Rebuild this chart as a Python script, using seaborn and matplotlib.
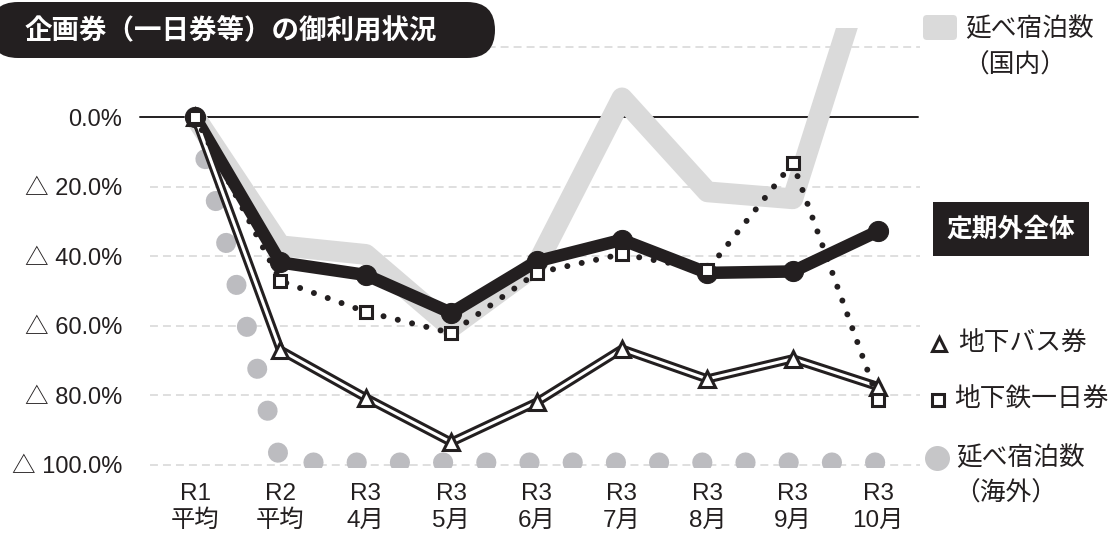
"""企画券（一日券等）の御利用状況 - line chart recreation"""

import numpy as np
import matplotlib
matplotlib.use("Agg")
import matplotlib.pyplot as plt
import matplotlib.transforms as mtransforms
from matplotlib.patches import FancyBboxPatch, Rectangle
from matplotlib.lines import Line2D
import seaborn as sns

# --- data (change rate vs R1 average, %) ---
periods = ["R1\n平均", "R2\n平均", "R3\n4月", "R3\n5月", "R3\n6月",
           "R3\n7月", "R3\n8月", "R3\n9月", "R3\n10月"]
total_offpeak = [0, -41.8, -45.4, -56.3, -41.5, -35.3, -44.8, -44.4, -32.8]
bus_pass = [0, -67.0, -80.7, -93.5, -82.0, -66.7, -75.3, -69.5, -77.5]
subway_day_pass = [0, -47.1, -56.0, -62.1, -44.8, -39.4, -44.0, -13.2, -81.3]
stays_domestic = [0, -37.0, -39.5, -60.5, -42.5, 5.5, -21.5, -23.5, 54.0]
stays_foreign = [0, -99.3, -99.3, -99.3, -99.3, -99.3, -99.3, -99.3, -99.3]
ytick_vals = [0, -20, -40, -60, -80, -100]
ytick_labels = ["0.0%", "△ 20.0%", "△ 40.0%", "△ 60.0%", "△ 80.0%", "△ 100.0%"]
grid_vals = [20, -20, -40, -60, -80, -100]

INK = "#231f20"
W, H = 1114, 533

sns.set_style("white")
plt.rcParams["font.family"] = ["Liberation Sans", "Noto Sans CJK JP"]

fig = plt.figure(figsize=(W / 100, H / 100), dpi=100)
ax = fig.add_axes([150 / W, 1 - 468 / H, 770 / W, 440 / H])
x = np.arange(len(periods))

# grid + zero line
for g in grid_vals:
    ax.axhline(g, color="#d6d6d6", lw=1.1, dashes=(5.2, 3.3), zorder=0)
ax.axhline(0, xmin=-0.013, xmax=0.997, color=INK, lw=1.4, clip_on=False, zorder=0.5)

# 延べ宿泊数（国内）: thick light band
sns.lineplot(x=x, y=stays_domestic, ax=ax, color="#dadada", lw=15,
             solid_joinstyle="round", solid_capstyle="round", zorder=1)
# 延べ宿泊数（海外）: big round dots
sns.lineplot(x=x, y=stays_foreign, ax=ax, color="#bcbcc0", lw=14.4,
             linestyle=(0, (0.01, 2.15)), dash_capstyle="round", zorder=2)
# 定期外全体
sns.lineplot(x=x, y=total_offpeak, ax=ax, color=INK, lw=9, marker="o",
             markersize=14.5, markerfacecolor=INK, markeredgecolor=INK,
             solid_joinstyle="round", zorder=3)
# 地下バス券: double line with open triangles
sns.lineplot(x=x, y=bus_pass, ax=ax, color=INK, lw=6.6,
             solid_joinstyle="miter", zorder=4)
sns.lineplot(x=x, y=bus_pass, ax=ax, color="white", lw=2.2, marker="^",
             markersize=11.5, markerfacecolor="white", markeredgecolor=INK,
             markeredgewidth=2.2, solid_joinstyle="miter", zorder=4.1)
# 地下鉄一日券: dotted line with open squares
sns.lineplot(x=x, y=subway_day_pass, ax=ax, color=INK, lw=4.3,
             linestyle=(0, (0.01, 2.45)), dash_capstyle="round", zorder=5)
sns.lineplot(x=x, y=subway_day_pass, ax=ax, color=INK, lw=0, marker="s",
             markersize=8, markerfacecolor="white", markeredgecolor=INK,
             markeredgewidth=2.2, zorder=5.1)

ax.set_xlim(-0.527, 8.49)
ax.set_ylim(-100.9, 25.6)
ax.set_xticks(x)
ax.set_xticklabels(periods, fontsize=17.5, linespacing=1.25, color=INK)
ax.set_yticks(ytick_vals)
ax.set_yticklabels(ytick_labels, fontsize=17, color=INK)
ax.tick_params(axis="both", length=0)
ax.tick_params(axis="x", pad=11)
ax.tick_params(axis="y", pad=20)
ax.set_xlabel("")
ax.set_ylabel("")
for s in ax.spines.values():
    s.set_visible(False)

px = mtransforms.IdentityTransform()


def P(xp, yp):
    """image pixel (top-left origin) -> display coords"""
    return xp, H - yp


# title pill
x0, y0 = P(-10, 58)
fig.add_artist(FancyBboxPatch((x0, y0), 505, 56,
                              boxstyle="round,pad=0,rounding_size=28",
                              transform=px, facecolor=INK, edgecolor="none"))
fig.text(*P(25, 31), "企画券（一日券等）の御利用状況", transform=px,
         color="white", fontsize=19.8, fontweight="bold", va="center", ha="left")

# legend: 国内
x0, y0 = P(923, 40)
fig.add_artist(FancyBboxPatch((x0, y0), 34, 25,
                              boxstyle="round,pad=0,rounding_size=4",
                              transform=px, facecolor="#dadada", edgecolor="none"))
fig.text(*P(965, 29), "延べ宿泊数", transform=px, fontsize=18.5, color=INK, va="center")
fig.text(*P(963, 65), "（国内）", transform=px, fontsize=18.5, color=INK, va="center")

# legend: 定期外全体
x0, y0 = P(933, 256)
fig.add_artist(Rectangle((x0, y0), 156, 54, transform=px, facecolor=INK, edgecolor="none"))
fig.text(*P(1011, 229), "定期外全体", transform=px, color="white", fontsize=18.5,
         fontweight="bold", va="center", ha="center")

# legend: 地下バス券
fig.add_artist(Line2D([939], [H - 344], transform=px, marker="^", markersize=10,
                      markerfacecolor="white", markeredgecolor=INK, markeredgewidth=2.2))
fig.text(*P(958, 343), "地下バス券", transform=px, fontsize=18.5, color=INK, va="center")

# legend: 地下鉄一日券
fig.add_artist(Line2D([938], [H - 400], transform=px, marker="s", markersize=9,
                      markerfacecolor="white", markeredgecolor=INK, markeredgewidth=2.2))
fig.text(*P(954, 400), "地下鉄一日券", transform=px, fontsize=18.5, color=INK, va="center")

# legend: 海外
fig.add_artist(Line2D([937], [H - 458], transform=px, marker="o", markersize=18,
                      markerfacecolor="#c6c6c8", markeredgecolor="none"))
fig.text(*P(956, 458), "延べ宿泊数", transform=px, fontsize=18.5, color=INK, va="center")
fig.text(*P(954, 493), "（海外）", transform=px, fontsize=18.5, color=INK, va="center")

fig.savefig("out.png", dpi=100)
